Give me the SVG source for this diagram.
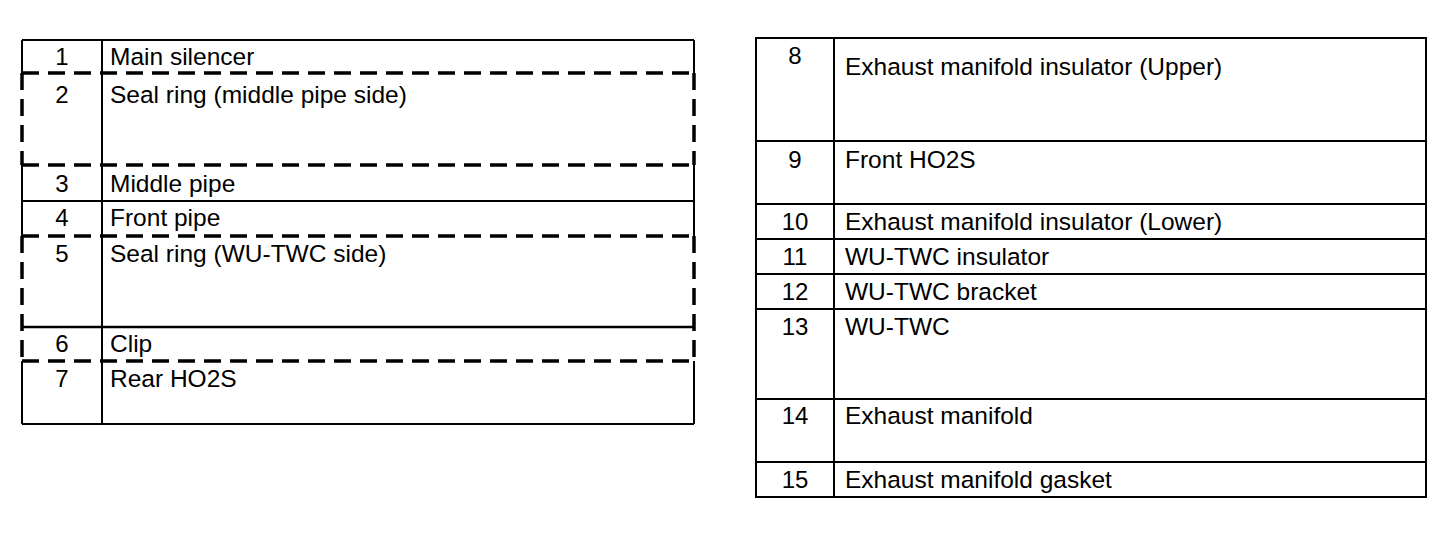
<svg xmlns="http://www.w3.org/2000/svg" width="1456" height="538" viewBox="0 0 1456 538">
<style>
.s{stroke:#000;stroke-width:2;fill:none}
.d{stroke:#000;stroke-width:3.5;fill:none;stroke-dasharray:17 9}
.n{font-family:"Liberation Sans",Arial,sans-serif;font-size:24px;fill:#000;text-anchor:middle}
.t{font-family:"Liberation Sans",Arial,sans-serif;font-size:24.5px;fill:#000}
</style>
<rect width="1456" height="538" fill="#fff"/>
<g id="left-table">
<g id="left-lines">
<line class="s" x1="22" y1="40" x2="694" y2="40"/>
<line class="s" x1="22" y1="424" x2="694" y2="424"/>
<line class="s" x1="22" y1="201" x2="694" y2="201"/>
<line class="s" x1="22" y1="327" x2="694" y2="327" style="stroke-width:2.5"/>
<line class="s" x1="102" y1="40" x2="102" y2="424"/>
<line class="s" x1="22" y1="40" x2="22" y2="73"/>
<line class="s" x1="694" y1="40" x2="694" y2="73"/>
<line class="s" x1="22" y1="165" x2="22" y2="236"/>
<line class="s" x1="694" y1="165" x2="694" y2="236"/>
<line class="s" x1="22" y1="361" x2="22" y2="424"/>
<line class="s" x1="694" y1="361" x2="694" y2="424"/>
<line class="d" x1="22" y1="73" x2="694" y2="73"/>
<line class="d" x1="22" y1="165" x2="694" y2="165"/>
<line class="d" x1="22" y1="236" x2="694" y2="236"/>
<line class="d" x1="22" y1="361" x2="694" y2="361"/>
<line class="d" x1="22" y1="73" x2="22" y2="165"/>
<line class="d" x1="694" y1="73" x2="694" y2="165"/>
<line class="d" x1="22" y1="236" x2="22" y2="361"/>
<line class="d" x1="694" y1="236" x2="694" y2="361"/>
</g>
<g id="row1"><text class="n" x="62" y="65">1</text><text class="t" x="110" y="65">Main silencer</text></g>
<g id="row2"><text class="n" x="62" y="103">2</text><text class="t" x="110" y="103">Seal ring (middle pipe side)</text></g>
<g id="row3"><text class="n" x="62" y="192">3</text><text class="t" x="110" y="192">Middle pipe</text></g>
<g id="row4"><text class="n" x="62" y="226">4</text><text class="t" x="110" y="226">Front pipe</text></g>
<g id="row5"><text class="n" x="62" y="262">5</text><text class="t" x="110" y="262">Seal ring (WU-TWC side)</text></g>
<g id="row6"><text class="n" x="62" y="352">6</text><text class="t" x="110" y="352">Clip</text></g>
<g id="row7"><text class="n" x="62" y="387">7</text><text class="t" x="110" y="387">Rear HO2S</text></g>
</g>
<g id="right-table">
<g id="right-lines">
<rect class="s" x="756" y="38" width="670" height="459"/>
<line class="s" x1="834" y1="38" x2="834" y2="497"/>
<line class="s" x1="756" y1="141" x2="1426" y2="141"/>
<line class="s" x1="756" y1="204" x2="1426" y2="204"/>
<line class="s" x1="756" y1="239" x2="1426" y2="239"/>
<line class="s" x1="756" y1="274" x2="1426" y2="274"/>
<line class="s" x1="756" y1="309" x2="1426" y2="309"/>
<line class="s" x1="756" y1="399" x2="1426" y2="399"/>
<line class="s" x1="756" y1="462" x2="1426" y2="462"/>
</g>
<g id="row8"><text class="n" x="795" y="64">8</text><text class="t" x="845" y="75">Exhaust manifold insulator (Upper)</text></g>
<g id="row9"><text class="n" x="795" y="168">9</text><text class="t" x="845" y="168">Front HO2S</text></g>
<g id="row10"><text class="n" x="795" y="230">10</text><text class="t" x="845" y="230">Exhaust manifold insulator (Lower)</text></g>
<g id="row11"><text class="n" x="795" y="265">11</text><text class="t" x="845" y="265">WU-TWC insulator</text></g>
<g id="row12"><text class="n" x="795" y="300">12</text><text class="t" x="845" y="300">WU-TWC bracket</text></g>
<g id="row13"><text class="n" x="795" y="335">13</text><text class="t" x="845" y="335">WU-TWC</text></g>
<g id="row14"><text class="n" x="795" y="424">14</text><text class="t" x="845" y="424">Exhaust manifold</text></g>
<g id="row15"><text class="n" x="795" y="488">15</text><text class="t" x="845" y="488">Exhaust manifold gasket</text></g>
</g>
</svg>
